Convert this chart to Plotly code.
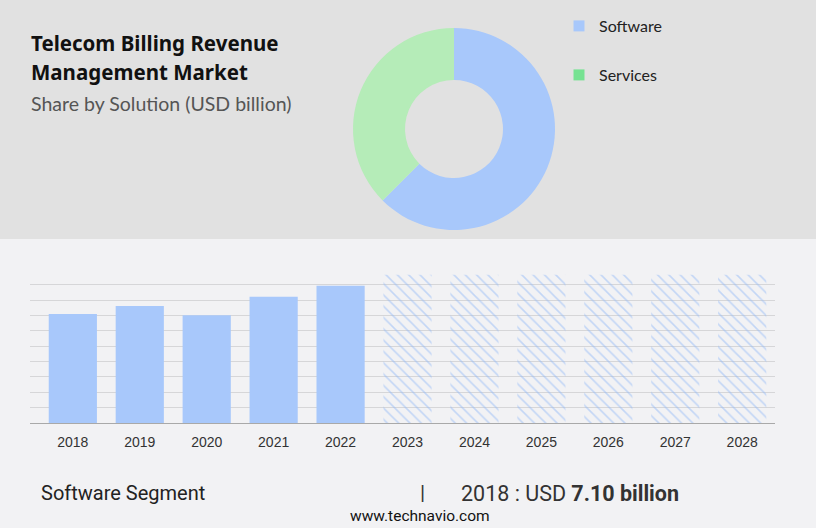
import plotly.graph_objects as go

# Data
years = ["2018", "2019", "2020", "2021", "2022", "2023", "2024", "2025", "2026", "2027", "2028"]
history_years = years[:5]
history_values = [7.10, 7.63, 7.02, 8.22, 8.94]
forecast_years = years[5:]
forecast_values = [9.66, 9.66, 9.66, 9.66, 9.66, 9.66]

segments = ["Software", "Services"]
segment_share = [62.5, 37.5]
slice_colors = ["#a8c8fb", "#b5ecb8"]
legend_colors = ["#a8c8fb", "#76e292"]

W, H = 816, 528

def px_x(v):
    return v / W

def px_y(v):
    return 1 - v / H

fig = go.Figure()

# Donut
cx, cy, r = 454, 129, 101
fig.add_trace(go.Pie(
    labels=segments, values=segment_share, hole=0.485, sort=False,
    direction="clockwise", rotation=0,
    marker=dict(colors=slice_colors, line=dict(width=0)),
    textinfo="none", hoverinfo="label+percent", showlegend=False,
    domain=dict(x=[px_x(cx - r), px_x(cx + r)], y=[px_y(cy + r), px_y(cy - r)]),
))

# Legend entries (dummy traces)
for i, (name, col) in enumerate(zip(segments, legend_colors)):
    fig.add_trace(go.Scatter(
        x=[None], y=[None], mode="markers", name=name,
        marker=dict(symbol="square", size=11, color=col),
        legend="legend" if i == 0 else "legend2",
        xaxis="x", yaxis="y",
    ))

# Bars
fig.add_trace(go.Bar(
    x=history_years, y=history_values, marker=dict(color="#a8c8fb", line=dict(width=0)),
    width=0.72, showlegend=False, hoverinfo="x+y",
))
fig.add_trace(go.Bar(
    x=forecast_years, y=forecast_values,
    marker=dict(color="rgba(0,0,0,0)", line=dict(width=0),
                pattern=dict(shape="\\", fgcolor="#93baf7", bgcolor="rgba(0,0,0,0)", size=8, solidity=0.2)),
    width=0.72, showlegend=False, hoverinfo="x",
))

legend_font = dict(family="Lato, 'DejaVu Sans', sans-serif", size=16, color="#222")

fig.update_layout(
    width=W, height=H,
    margin=dict(l=0, r=0, t=0, b=0),
    paper_bgcolor="#f2f2f4",
    plot_bgcolor="rgba(0,0,0,0)",
    barmode="overlay",
    xaxis=dict(
        domain=[px_x(30), px_x(775)], type="category", categoryorder="array", categoryarray=years,
        range=[-0.64, 10.49], showgrid=False, showline=True, linecolor="#a9a9a9", linewidth=1,
        ticks="", ticklabelstandoff=6,
        tickfont=dict(family="Liberation Sans, Arial, sans-serif", size=14, color="#333"),
        fixedrange=True,
    ),
    yaxis=dict(
        domain=[px_y(423), px_y(269.5)], range=[0, 10], dtick=1, showgrid=True,
        gridcolor="#d6d6d8", gridwidth=1, zeroline=False, showticklabels=False, fixedrange=True,
    ),
    legend=dict(
        x=px_x(559), y=px_y(9), xanchor="left", yanchor="top", bgcolor="rgba(0,0,0,0)",
        font=legend_font, itemwidth=30,
    ),
    legend2=dict(
        x=px_x(559), y=px_y(58), xanchor="left", yanchor="top", bgcolor="rgba(0,0,0,0)",
        font=legend_font, itemwidth=30,
    ),
    shapes=[
        dict(type="rect", xref="paper", yref="paper", x0=0, x1=1, y0=px_y(239), y1=1,
             fillcolor="#e1e1e1", line=dict(width=0), layer="below"),
    ],
    annotations=[
        dict(text="<b>Telecom Billing Revenue</b>", xref="paper", yref="paper",
             x=px_x(29), y=px_y(43), xanchor="left", yanchor="middle", align="left", showarrow=False,
             font=dict(family="'Noto Sans', 'Open Sans', sans-serif", size=20.5, color="#111")),
        dict(text="<b>Management Market</b>", xref="paper", yref="paper",
             x=px_x(29), y=px_y(72), xanchor="left", yanchor="middle", align="left", showarrow=False,
             font=dict(family="'Noto Sans', 'Open Sans', sans-serif", size=20.5, color="#111")),
        dict(text="Share by Solution (USD billion)", xref="paper", yref="paper",
             x=px_x(29), y=px_y(103), xanchor="left", yanchor="middle", align="left", showarrow=False,
             font=dict(family="Lato, 'DejaVu Sans', sans-serif", size=19.5, color="#555")),
        dict(text="Software Segment", xref="paper", yref="paper",
             x=px_x(39), y=px_y(493), xanchor="left", yanchor="middle", showarrow=False,
             font=dict(family="'Liberation Sans Narrow', 'Roboto', sans-serif", size=20, color="#222")),
        dict(text="|", xref="paper", yref="paper",
             x=px_x(422), y=px_y(493), xanchor="center", yanchor="middle", showarrow=False,
             font=dict(family="'Liberation Sans Narrow', 'Roboto', sans-serif", size=21, color="#333")),
        dict(text="2018 : USD <b>7.10 billion</b>", xref="paper", yref="paper",
             x=px_x(459), y=px_y(493), xanchor="left", yanchor="middle", showarrow=False,
             font=dict(family="'Liberation Sans Narrow', 'Roboto', sans-serif", size=21.5, color="#333")),
        dict(text="www.technavio.com", xref="paper", yref="paper",
             x=px_x(420), y=px_y(516), xanchor="center", yanchor="middle", showarrow=False,
             font=dict(family="'Liberation Sans Narrow', 'Roboto', sans-serif", size=15.5, color="#111")),
    ],
)

fig.write_html(
    "out.html",
    config=dict(displayModeBar=False),
    post_script="document.body.style.margin='0';document.body.style.overflow='hidden';",
)
